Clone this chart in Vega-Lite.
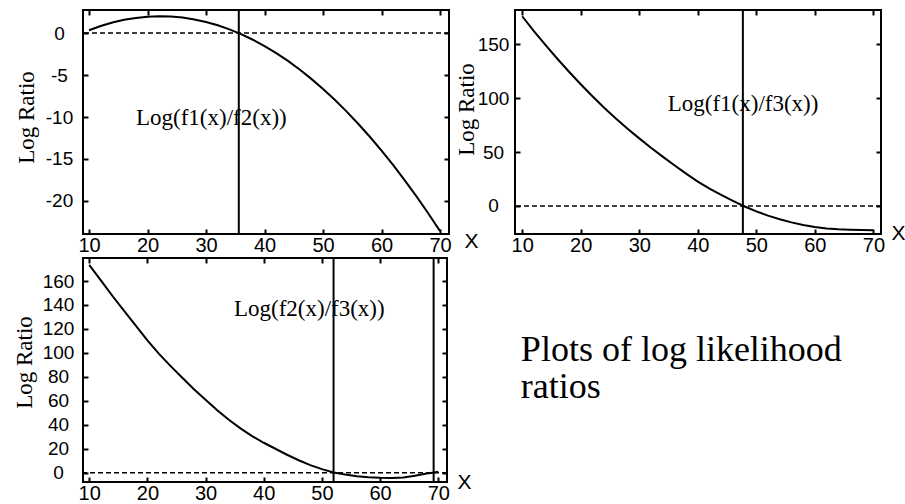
{
  "$schema": "https://vega.github.io/schema/vega-lite/v6.json",
  "background": "white",
  "padding": {"left": 12, "top": 8, "right": 0, "bottom": 0},
  "bounds": "flush",
  "columns": 2,
  "spacing": {"row": 24, "column": 66},
  "concat": [
    {
      "width": 366,
      "height": 224,
      "data": {"values": [
        {"x": 10, "y": 0.33}, {"x": 12, "y": 0.83}, {"x": 14, "y": 1.25}, {"x": 16, "y": 1.57},
        {"x": 18, "y": 1.80}, {"x": 20, "y": 1.95}, {"x": 22, "y": 2.0}, {"x": 24, "y": 1.96},
        {"x": 26, "y": 1.84}, {"x": 28, "y": 1.62}, {"x": 30, "y": 1.32}, {"x": 32, "y": 0.92},
        {"x": 34, "y": 0.44}, {"x": 36, "y": -0.13}, {"x": 38, "y": -0.80}, {"x": 40, "y": -1.55},
        {"x": 42, "y": -2.39}, {"x": 44, "y": -3.32}, {"x": 46, "y": -4.34}, {"x": 48, "y": -5.46},
        {"x": 50, "y": -6.66}, {"x": 52, "y": -7.95}, {"x": 54, "y": -9.33}, {"x": 56, "y": -10.80},
        {"x": 58, "y": -12.35}, {"x": 60, "y": -14.00}, {"x": 62, "y": -15.74}, {"x": 64, "y": -17.57},
        {"x": 66, "y": -19.49}, {"x": 68, "y": -21.49}, {"x": 70, "y": -23.59}
      ]},
      "layer": [
        {
          "mark": {"type": "line", "color": "black", "strokeWidth": 2, "clip": true},
          "encoding": {
            "x": {"field": "x", "type": "quantitative",
                  "scale": {"domain": [8.97, 71.53], "nice": false, "zero": false},
                  "axis": {"orient": "bottom", "values": [10, 20, 30, 40, 50, 60, 70],
                           "title": "X", "titleX": 388, "titleY": 7}},
            "y": {"field": "y", "type": "quantitative",
                  "scale": {"domain": [-23.93, 2.74], "nice": false, "zero": false},
                  "axis": {"orient": "left", "values": [0, -5, -10, -15, -20], "labelPadding": 29,
                           "title": "Log Ratio", "titleX": -57, "titleY": 107}}
          }
        },
        {
          "data": {"values": [{"y0": 0}]},
          "mark": {"type": "rule", "color": "black", "strokeWidth": 1.5, "strokeDash": [5, 3]},
          "encoding": {
            "y": {"field": "y0", "type": "quantitative",
                  "scale": {"domain": [-23.93, 2.74], "nice": false, "zero": false},
                  "axis": {"orient": "right", "values": [0, -5, -10, -15, -20], "labels": false, "title": null}}
          }
        },
        {
          "data": {"values": [{"xv": 35.6}]},
          "mark": {"type": "rule", "color": "black", "strokeWidth": 2},
          "encoding": {
            "x": {"field": "xv", "type": "quantitative",
                  "scale": {"domain": [8.97, 71.53], "nice": false, "zero": false},
                  "axis": {"orient": "top", "values": [10, 20, 30, 40, 50, 60, 70], "labels": false, "title": null}}
          }
        },
        {
          "data": {"values": [{"tx": 18.03, "ty": -10.95, "t": "Log(f1(x)/f2(x))"}]},
          "mark": {"type": "text", "align": "left", "baseline": "alphabetic", "font": "Liberation Serif", "fontSize": 23, "color": "black"},
          "encoding": {
            "x": {"field": "tx", "type": "quantitative", "scale": {"domain": [8.97, 71.53], "nice": false, "zero": false}, "axis": null},
            "y": {"field": "ty", "type": "quantitative", "scale": {"domain": [-23.93, 2.74], "nice": false, "zero": false}, "axis": null},
            "text": {"field": "t"}
          }
        }
      ],
      "resolve": {"axis": {"x": "independent", "y": "independent"}}
    },
    {
      "width": 366,
      "height": 224,
      "data": {"values": [
        {"x": 10, "y": 176.0}, {"x": 12, "y": 162.3}, {"x": 14, "y": 149.2}, {"x": 16, "y": 136.6},
        {"x": 18, "y": 124.5}, {"x": 20, "y": 112.9}, {"x": 22, "y": 101.8}, {"x": 24, "y": 91.2},
        {"x": 26, "y": 81.2}, {"x": 28, "y": 71.7}, {"x": 30, "y": 62.7}, {"x": 32, "y": 54.0},
        {"x": 34, "y": 45.8}, {"x": 36, "y": 37.8}, {"x": 38, "y": 30.0}, {"x": 40, "y": 22.6},
        {"x": 42, "y": 16.0}, {"x": 44, "y": 10.2}, {"x": 46, "y": 4.7}, {"x": 48, "y": -0.5},
        {"x": 50, "y": -5.0}, {"x": 52, "y": -9.0}, {"x": 54, "y": -12.3}, {"x": 56, "y": -15.2},
        {"x": 58, "y": -17.6}, {"x": 60, "y": -19.5}, {"x": 62, "y": -20.8}, {"x": 64, "y": -21.6},
        {"x": 66, "y": -22.0}, {"x": 68, "y": -22.3}, {"x": 70, "y": -22.5}
      ]},
      "layer": [
        {
          "mark": {"type": "line", "color": "black", "strokeWidth": 2, "clip": true},
          "encoding": {
            "x": {"field": "x", "type": "quantitative",
                  "scale": {"domain": [8.77, 71.3], "nice": false, "zero": false},
                  "axis": {"orient": "bottom", "values": [10, 20, 30, 40, 50, 60, 70],
                           "title": "X", "titleX": 383, "titleY": -1}},
            "y": {"field": "y", "type": "quantitative",
                  "scale": {"domain": [-26, 181.8], "nice": false, "zero": false},
                  "axis": {"orient": "left", "values": [0, 50, 100, 150], "labelPadding": 27,
                           "title": "Log Ratio", "titleX": -49, "titleY": 99}}
          }
        },
        {
          "data": {"values": [{"y0": 0}]},
          "mark": {"type": "rule", "color": "black", "strokeWidth": 1.5, "strokeDash": [5, 3]},
          "encoding": {
            "y": {"field": "y0", "type": "quantitative",
                  "scale": {"domain": [-26, 181.8], "nice": false, "zero": false},
                  "axis": {"orient": "right", "values": [0, 50, 100, 150], "labels": false, "title": null}}
          }
        },
        {
          "data": {"values": [{"xv": 47.7}]},
          "mark": {"type": "rule", "color": "black", "strokeWidth": 2},
          "encoding": {
            "x": {"field": "xv", "type": "quantitative",
                  "scale": {"domain": [8.77, 71.3], "nice": false, "zero": false},
                  "axis": {"orient": "top", "values": [10, 20, 30, 40, 50, 60, 70], "labels": false, "title": null}}
          }
        },
        {
          "data": {"values": [{"tx": 34.86, "ty": 88.1, "t": "Log(f1(x)/f3(x))"}]},
          "mark": {"type": "text", "align": "left", "baseline": "alphabetic", "font": "Liberation Serif", "fontSize": 23, "color": "black"},
          "encoding": {
            "x": {"field": "tx", "type": "quantitative", "scale": {"domain": [8.77, 71.3], "nice": false, "zero": false}, "axis": null},
            "y": {"field": "ty", "type": "quantitative", "scale": {"domain": [-26, 181.8], "nice": false, "zero": false}, "axis": null},
            "text": {"field": "t"}
          }
        }
      ],
      "resolve": {"axis": {"x": "independent", "y": "independent"}}
    },
    {
      "width": 364,
      "height": 224,
      "data": {"values": [
        {"x": 10, "y": 173.5}, {"x": 12, "y": 160.5}, {"x": 14, "y": 147.5}, {"x": 16, "y": 135.0},
        {"x": 18, "y": 122.8}, {"x": 20, "y": 110.5}, {"x": 22, "y": 99.2}, {"x": 24, "y": 89.0},
        {"x": 26, "y": 79.2}, {"x": 28, "y": 69.7}, {"x": 30, "y": 60.8}, {"x": 32, "y": 52.2},
        {"x": 34, "y": 44.2}, {"x": 36, "y": 37.0}, {"x": 38, "y": 30.6}, {"x": 40, "y": 25.0},
        {"x": 42, "y": 20.0}, {"x": 44, "y": 15.0}, {"x": 46, "y": 10.4}, {"x": 48, "y": 6.3},
        {"x": 50, "y": 3.0}, {"x": 52, "y": 0.2}, {"x": 54, "y": -1.5}, {"x": 56, "y": -2.9},
        {"x": 58, "y": -3.8}, {"x": 60, "y": -4.3}, {"x": 62, "y": -4.4}, {"x": 64, "y": -4.0},
        {"x": 66, "y": -2.5}, {"x": 68, "y": -0.7}, {"x": 69, "y": 0.0}, {"x": 70, "y": 0.8}
      ]},
      "layer": [
        {
          "mark": {"type": "line", "color": "black", "strokeWidth": 2, "clip": true},
          "encoding": {
            "x": {"field": "x", "type": "quantitative",
                  "scale": {"domain": [8.93, 71.5], "nice": false, "zero": false},
                  "axis": {"orient": "bottom", "values": [10, 20, 30, 40, 50, 60, 70],
                           "title": "X", "titleX": 381, "titleY": 0}},
            "y": {"field": "y", "type": "quantitative",
                  "scale": {"domain": [-7.76, 179.2], "nice": false, "zero": false},
                  "axis": {"orient": "left", "values": [0, 20, 40, 60, 80, 100, 120, 140, 160], "labelPadding": 30,
                           "title": "Log Ratio", "titleX": -59, "titleY": 104}}
          }
        },
        {
          "data": {"values": [{"y0": 0}]},
          "mark": {"type": "rule", "color": "black", "strokeWidth": 1.5, "strokeDash": [5, 3]},
          "encoding": {
            "y": {"field": "y0", "type": "quantitative",
                  "scale": {"domain": [-7.76, 179.2], "nice": false, "zero": false},
                  "axis": {"orient": "right", "values": [0, 20, 40, 60, 80, 100, 120, 140, 160], "labels": false, "title": null}}
          }
        },
        {
          "data": {"values": [{"xv": 52.0}, {"xv": 69.2}]},
          "mark": {"type": "rule", "color": "black", "strokeWidth": 2},
          "encoding": {
            "x": {"field": "xv", "type": "quantitative",
                  "scale": {"domain": [8.93, 71.5], "nice": false, "zero": false},
                  "axis": {"orient": "top", "values": [10, 20, 30, 40, 50, 60, 70], "labels": false, "title": null}}
          }
        },
        {
          "data": {"values": [{"tx": 34.88, "ty": 130.8, "t": "Log(f2(x)/f3(x))"}]},
          "mark": {"type": "text", "align": "left", "baseline": "alphabetic", "font": "Liberation Serif", "fontSize": 23, "color": "black"},
          "encoding": {
            "x": {"field": "tx", "type": "quantitative", "scale": {"domain": [8.93, 71.5], "nice": false, "zero": false}, "axis": null},
            "y": {"field": "ty", "type": "quantitative", "scale": {"domain": [-7.76, 179.2], "nice": false, "zero": false}, "axis": null},
            "text": {"field": "t"}
          }
        }
      ],
      "resolve": {"axis": {"x": "independent", "y": "independent"}}
    },
    {
      "width": 366,
      "height": 224,
      "view": {"stroke": null},
      "data": {"values": [{"tx": 0.016, "ty": 0.54, "t": "Plots of log likelihood\nratios"}]},
      "mark": {"type": "text", "align": "left", "baseline": "alphabetic", "font": "Liberation Serif", "fontSize": 36, "lineBreak": "\n", "lineHeight": 37, "color": "black"},
      "encoding": {
        "x": {"field": "tx", "type": "quantitative", "scale": {"domain": [0, 1], "nice": false, "zero": false}, "axis": null},
        "y": {"field": "ty", "type": "quantitative", "scale": {"domain": [0, 1], "nice": false, "zero": false}, "axis": null},
        "text": {"field": "t"}
      }
    }
  ],
  "config": {
    "view": {"stroke": "black", "strokeWidth": 2},
    "axis": {
      "grid": false,
      "domain": false,
      "ticks": true,
      "tickSize": -5,
      "tickWidth": 2,
      "tickColor": "black",
      "labelColor": "black",
      "labelFont": "Liberation Sans",
      "labelFontSize": 19,
      "labelFlush": false,
      "labelOverlap": false,
      "labelExpr": "'' + datum.value",
      "titleColor": "black",
      "titleFontWeight": "normal"
    },
    "axisX": {
      "labelFontSize": 20,
      "labelBaseline": "top",
      "labelPadding": 6,
      "titleFont": "Liberation Sans",
      "titleFontSize": 21,
      "titleAngle": 0,
      "titleAlign": "center",
      "titleBaseline": "middle"
    },
    "axisY": {
      "labelAlign": "center",
      "labelBaseline": "middle",
      "titleFont": "Liberation Serif",
      "titleFontSize": 23,
      "titleAngle": 270,
      "titleAlign": "center",
      "titleBaseline": "middle"
    }
  }
}
